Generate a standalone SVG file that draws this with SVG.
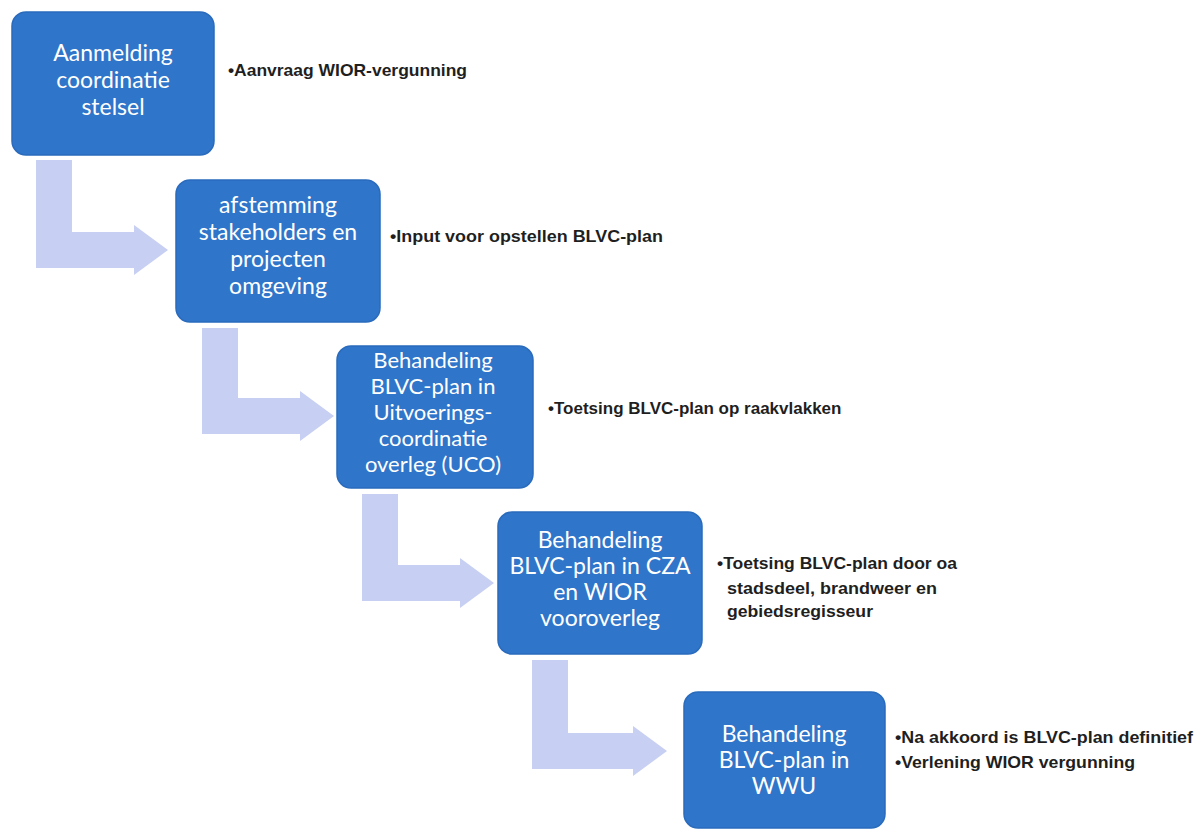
<svg xmlns="http://www.w3.org/2000/svg" width="1200" height="829" viewBox="0 0 1200 829">
<style>
.box{fill:#2f75c9;stroke:#2a6bbd;stroke-width:1.5}
.bt{font-family:Lato,"Open Sans","Liberation Sans",sans-serif;font-size:23px;fill:#ffffff;text-anchor:middle}
.bs{font-size:22px}
.lb{font-family:"Liberation Sans",Arial,sans-serif;font-size:17px;font-weight:bold;fill:#1f1f1f}
.arr{fill:#c7cff2}
</style>
<rect width="1200" height="829" fill="#ffffff"/>
<g id="connectors">
<path class="arr" d="M36 160 H72 V232 H134 V225 L168 250 L134 275 V268 H36 Z"/>
<path class="arr" d="M202 328 H238 V398 H300 V391 L334 416 L300 441 V434 H202 Z"/>
<path class="arr" d="M362 494 H398 V565 H460 V558 L494 583 L460 608 V601 H362 Z"/>
<path class="arr" d="M532 660 H568 V733 H633 V726 L667 751 L633 776 V769 H532 Z"/>
</g>
<g id="node1">
<rect class="box" x="12" y="12" width="202" height="143" rx="14"/>
<text class="bt" x="113" y="61">Aanmelding</text>
<text class="bt" x="113" y="88">coordinatie</text>
<text class="bt" x="113" y="115">stelsel</text>
<text class="lb" x="228" y="76" textLength="239" lengthAdjust="spacingAndGlyphs">•Aanvraag WIOR-vergunning</text>
</g>
<g id="node2">
<rect class="box" x="176" y="180" width="204" height="142" rx="14"/>
<text class="bt" x="278" y="213">afstemming</text>
<text class="bt" x="278" y="240">stakeholders en</text>
<text class="bt" x="278" y="267">projecten</text>
<text class="bt" x="278" y="294">omgeving</text>
<text class="lb" x="390" y="242" textLength="273" lengthAdjust="spacingAndGlyphs">•Input voor opstellen BLVC-plan</text>
</g>
<g id="node3">
<rect class="box" x="337" y="346" width="196" height="142" rx="14"/>
<text class="bt bs" x="433" y="368">Behandeling</text>
<text class="bt bs" x="433" y="394">BLVC-plan in</text>
<text class="bt bs" x="433" y="420">Uitvoerings-</text>
<text class="bt bs" x="433" y="446">coordinatie</text>
<text class="bt bs" x="433" y="472">overleg (UCO)</text>
<text class="lb" x="548" y="414">•Toetsing BLVC-plan op raakvlakken</text>
</g>
<g id="node4">
<rect class="box" x="498" y="512" width="204" height="142" rx="14"/>
<text class="bt" x="600" y="548">Behandeling</text>
<text class="bt" x="600" y="574">BLVC-plan in CZA</text>
<text class="bt" x="600" y="600">en WIOR</text>
<text class="bt" x="600" y="626">vooroverleg</text>
<text class="lb" x="717" y="569" textLength="240" lengthAdjust="spacingAndGlyphs">•Toetsing BLVC-plan door oa</text>
<text class="lb" x="727" y="594" textLength="210" lengthAdjust="spacingAndGlyphs">stadsdeel, brandweer en</text>
<text class="lb" x="727" y="617" textLength="146" lengthAdjust="spacingAndGlyphs">gebiedsregisseur</text>
</g>
<g id="node5">
<rect class="box" x="684" y="692" width="201" height="136" rx="14"/>
<text class="bt" x="784" y="742">Behandeling</text>
<text class="bt" x="784" y="768">BLVC-plan in</text>
<text class="bt" x="784" y="794">WWU</text>
<text class="lb" x="895" y="743" textLength="298" lengthAdjust="spacingAndGlyphs">•Na akkoord is BLVC-plan definitief</text>
<text class="lb" x="895" y="768" textLength="240" lengthAdjust="spacingAndGlyphs">•Verlening WIOR vergunning</text>
</g>
</svg>
